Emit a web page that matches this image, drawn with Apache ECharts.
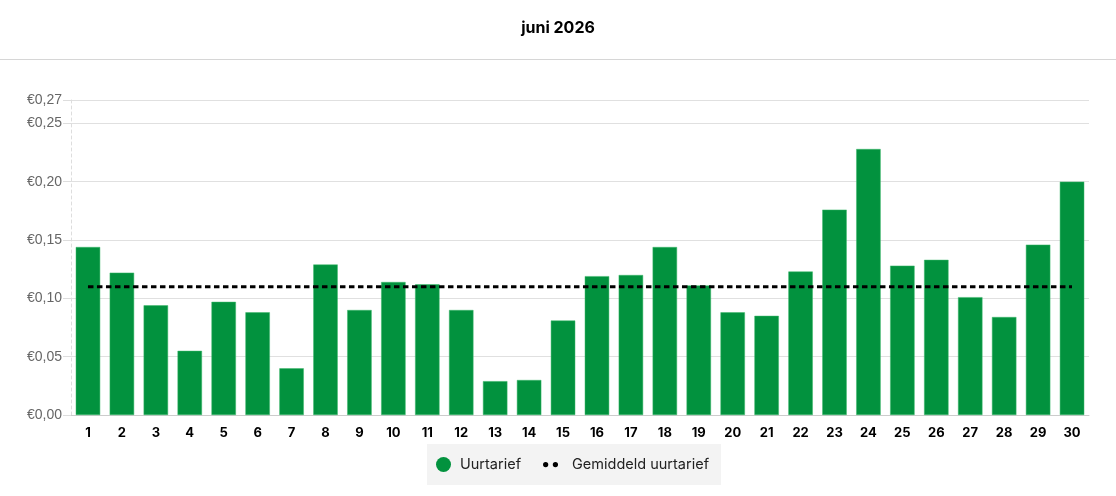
<!DOCTYPE html>
<html>
<head>
<meta charset="utf-8">
<style>
  html, body { margin: 0; padding: 0; background: #fff; }
  #container { width: 1116px; height: 496px; }
</style>
<script src="https://cdn.jsdelivr.net/npm/echarts@6/dist/echarts.min.js"></script>
</head>
<body>
<div id="container"></div>
<script>
// dagen van de maand
var days = ["1","2","3","4","5","6","7","8","9","10","11","12","13","14","15",
            "16","17","18","19","20","21","22","23","24","25","26","27","28","29","30"];

var hourRates = [0.144, 0.122, 0.094, 0.055, 0.097, 0.088, 0.040, 0.129, 0.090, 0.114,
                 0.112, 0.090, 0.029, 0.030, 0.081, 0.119, 0.120, 0.144, 0.111, 0.088,
                 0.085, 0.123, 0.176, 0.228, 0.128, 0.133, 0.101, 0.084, 0.146, 0.200];

// gemiddeld uurtarief (vlakke lijn)
var avgRates = [0.110, 0.110, 0.110, 0.110, 0.110, 0.110, 0.110, 0.110, 0.110, 0.110,
                0.110, 0.110, 0.110, 0.110, 0.110, 0.110, 0.110, 0.110, 0.110, 0.110,
                0.110, 0.110, 0.110, 0.110, 0.110, 0.110, 0.110, 0.110, 0.110, 0.110];

var yMin = 0;
var yMax = 0.27;
var yStep = 0.05;

var dom = document.getElementById("container");
var myChart = echarts.init(dom);

function euro(v) {
  return "€" + v.toFixed(2).replace(".", ",");
}

var option = {
  backgroundColor: "#fff",
  animation: false,
  title: {
    text: "juni 2026",
    left: "center",
    top: 15,
    textStyle: {
      fontFamily: "Inter",
      fontSize: 16,
      fontWeight: 700,
      color: "#000"
    }
  },
  graphic: [{
    type: "line",
    shape: { x1: 0, y1: 59.5, x2: 1116, y2: 59.5 },
    style: { stroke: "#d6d6d6", lineWidth: 1 }
  }],
  legend: {
    left: 427,
    top: 444,
    backgroundColor: "#f3f3f3",
    padding: [13, 12, 13, 9],
    itemWidth: 15,
    itemHeight: 15,
    itemGap: 22,
    itemStyle: { borderWidth: 0 },
    textStyle: {
      fontFamily: "Inter",
      fontSize: 14.5,
      color: "#222",
      padding: [0, 0, 0, 4]
    },
    data: [
      { name: "Uurtarief", icon: "circle" },
      { name: "Gemiddeld uurtarief",
        icon: "path://M0,8a2.8,2.8 0 1,0 5.6,0a2.8,2.8 0 1,0 -5.6,0M10.4,8a2.8,2.8 0 1,0 5.6,0a2.8,2.8 0 1,0 -5.6,0",
        textStyle: { padding: [0, 0, 0, 9] } }
    ]
  },
  grid: {
    left: 71,
    right: 27,
    top: 100,
    bottom: 81
  },
  xAxis: {
    type: "category",
    data: days,
    axisLine: { lineStyle: { color: "#cccccc" } },
    axisTick: { show: false },
    axisLabel: {
      color: "#000",
      fontFamily: "Inter",
      fontWeight: 700,
      fontSize: 13,
      margin: 12
    }
  },
  yAxis: {
    type: "value",
    min: yMin,
    max: yMax,
    interval: yStep,
    axisLine: {
      show: true,
      lineStyle: { color: "#dddddd", type: [3, 3] }
    },
    axisTick: {
      show: true,
      length: 8,
      lineStyle: { color: "#dddddd" }
    },
    axisLabel: {
      color: "#666",
      fontFamily: "Liberation Sans",
      fontSize: 14,
      margin: 9,
      formatter: euro
    },
    splitLine: { lineStyle: { color: "#e0e0e0" } }
  },
  series: [{
    name: "Uurtarief",
    type: "bar",
    data: hourRates,
    barWidth: "72%",
    itemStyle: {
      color: "#02923e",
      borderColor: "#3cb86a",
      borderWidth: 0.5
    }
  }, {
    name: "Gemiddeld uurtarief",
    type: "line",
    data: avgRates,
    symbol: "none",
    z: 5,
    color: "#000",
    lineStyle: {
      color: "#000",
      width: 3,
      type: [5.5, 3.5]
    },
    itemStyle: { color: "#000" }
  }]
};

myChart.setOption(option, true);
</script>
</body>
</html>
